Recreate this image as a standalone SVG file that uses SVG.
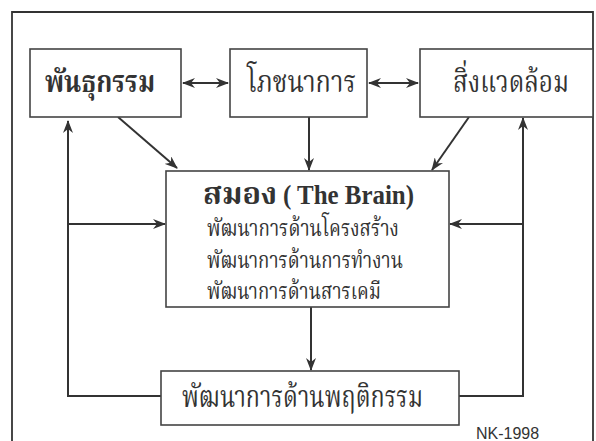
<svg xmlns="http://www.w3.org/2000/svg" width="596" height="441" viewBox="0 0 596 441">
<defs>
<marker id="ah" viewBox="0 0 13 10" refX="12" refY="5" markerWidth="13" markerHeight="10" markerUnits="userSpaceOnUse" orient="auto-start-reverse">
<path d="M0,0 L13,5 L0,10 L4,5 Z" fill="#333"/>
</marker>
</defs>
<style>
.box{fill:#fff;stroke:#444;stroke-width:1.6}
.frame{fill:none;stroke:#333;stroke-width:1.8}
.ln{fill:none;stroke:#333;stroke-width:2}
.th{font-family:"Noto Serif Thai","Noto Sans Thai","Noto Sans","DejaVu Serif",serif;fill:#333}
.b{font-weight:bold}
.en{font-family:"Liberation Serif","Times New Roman",serif;font-weight:bold;fill:#333}
.nk{font-family:"Liberation Sans",Arial,sans-serif;font-size:16px;fill:#333}
</style>
<rect width="596" height="441" fill="#fff"/>
<path class="frame" d="M12,441 L12,12 L593,12 L593,441"/>
<g id="connectors">
<line class="ln" x1="183" y1="83" x2="228" y2="83" marker-start="url(#ah)" marker-end="url(#ah)"/>
<line class="ln" x1="369" y1="83" x2="418" y2="83" marker-start="url(#ah)" marker-end="url(#ah)"/>
<line class="ln" x1="118" y1="117" x2="177" y2="168" marker-end="url(#ah)"/>
<line class="ln" x1="309" y1="117" x2="309" y2="170" marker-end="url(#ah)"/>
<line class="ln" x1="469" y1="117" x2="432" y2="170" marker-end="url(#ah)"/>
<polyline class="ln" points="161,396 68,396 68,121" marker-end="url(#ah)"/>
<line class="ln" x1="68" y1="224" x2="165" y2="224" marker-end="url(#ah)"/>
<polyline class="ln" points="459,396 523,396 523,118" marker-end="url(#ah)"/>
<line class="ln" x1="523" y1="224" x2="450" y2="224" marker-end="url(#ah)"/>
<line class="ln" x1="311" y1="307" x2="311" y2="370" marker-end="url(#ah)"/>
</g>
<g id="genetics">
<rect class="box" x="30" y="49" width="151" height="68"/>
<text class="th b" x="45" y="92" font-size="31" textLength="110" lengthAdjust="spacingAndGlyphs">พันธุกรรม</text>
</g>
<g id="nutrition">
<rect class="box" x="230" y="49" width="137" height="68"/>
<text class="th" x="247" y="92" font-size="31" textLength="109" lengthAdjust="spacingAndGlyphs">โภชนาการ</text>
</g>
<g id="environment">
<rect class="box" x="420" y="49" width="173" height="68"/>
<text class="th" x="453" y="92" font-size="31" textLength="116" lengthAdjust="spacingAndGlyphs">สิ่งแวดล้อม</text>
</g>
<g id="brain">
<rect class="box" x="166" y="171" width="283" height="136"/>
<text class="th b" x="203" y="204" font-size="31" textLength="74" lengthAdjust="spacingAndGlyphs">สมอง</text>
<text class="en" x="283" y="204" font-size="27" textLength="131" lengthAdjust="spacingAndGlyphs">( The Brain)</text>
<text class="th" x="207" y="236" font-size="23" textLength="192" lengthAdjust="spacingAndGlyphs">พัฒนาการด้านโครงสร้าง</text>
<text class="th" x="207" y="268" font-size="23" textLength="196" lengthAdjust="spacingAndGlyphs">พัฒนาการด้านการทำงาน</text>
<text class="th" x="207" y="299" font-size="23" textLength="174" lengthAdjust="spacingAndGlyphs">พัฒนาการด้านสารเคมี</text>
</g>
<g id="behavior">
<rect class="box" x="161" y="371" width="298" height="54"/>
<text class="th" x="182" y="407" font-size="30" textLength="241" lengthAdjust="spacingAndGlyphs">พัฒนาการด้านพฤติกรรม</text>
</g>
<text class="nk" x="476" y="439">NK-1998</text>
</svg>
